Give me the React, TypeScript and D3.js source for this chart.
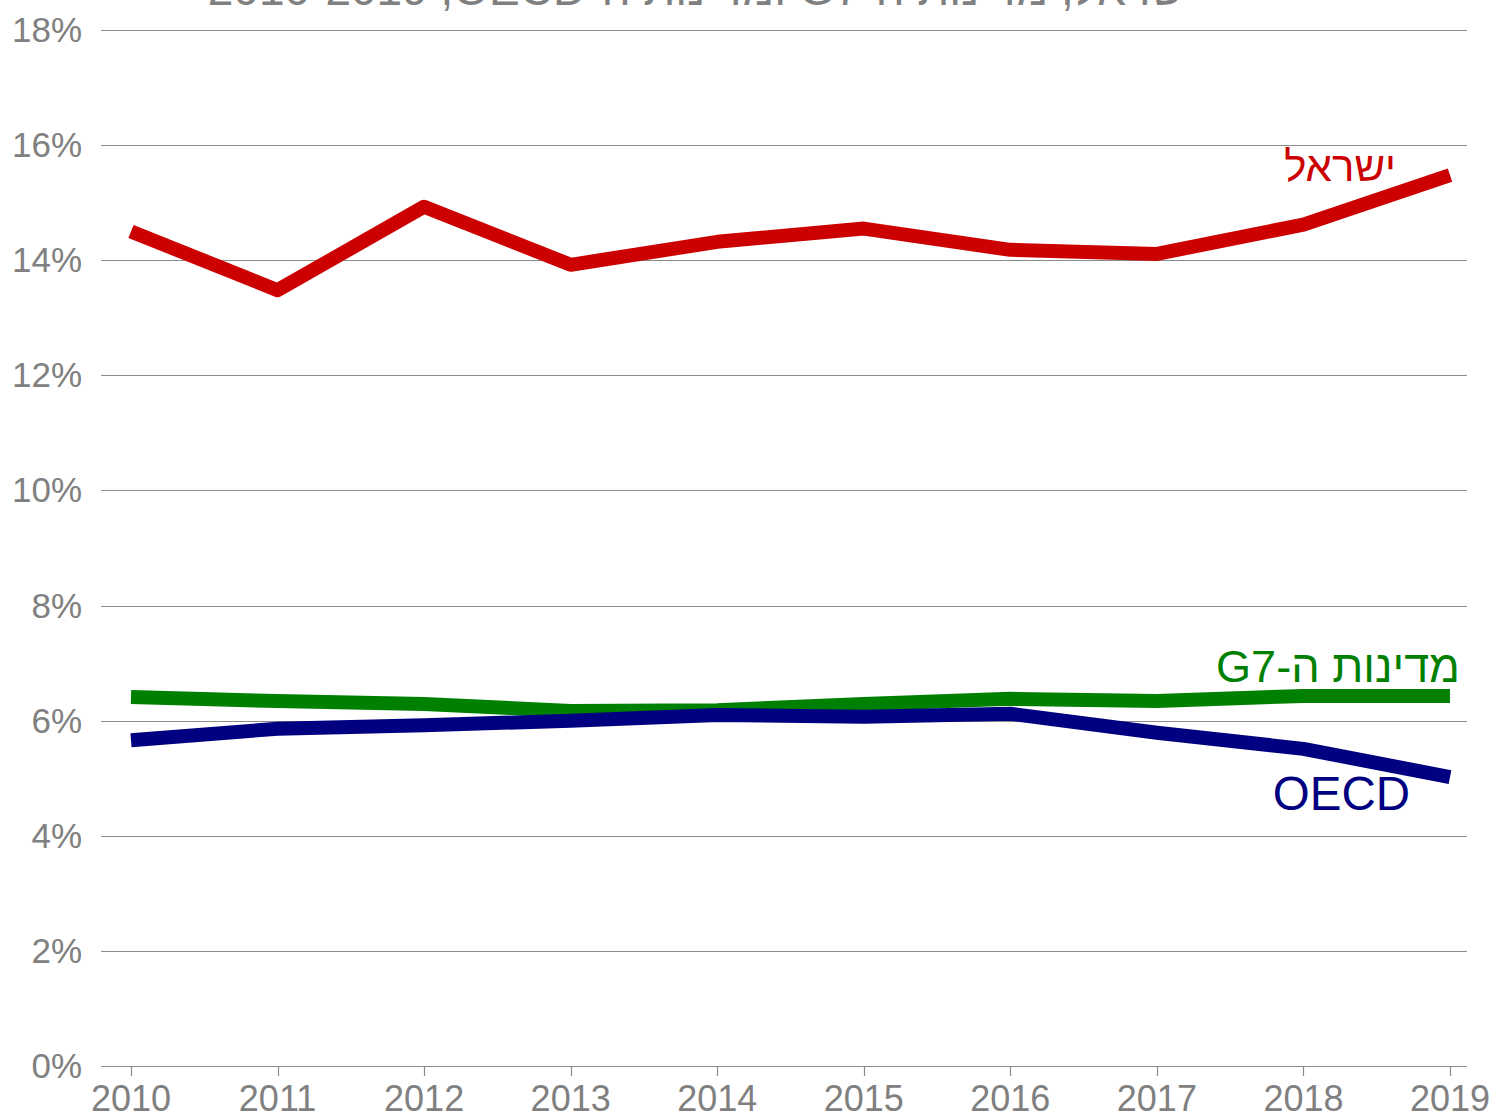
import React from "react";
import * as d3 from "d3";

const years = [2010, 2011, 2012, 2013, 2014, 2015, 2016, 2017, 2018, 2019];
const israel = [14.5, 13.48, 14.93, 13.92, 14.32, 14.55, 14.18, 14.11, 14.62, 15.48];
const g7 = [6.41, 6.34, 6.29, 6.17, 6.18, 6.29, 6.38, 6.34, 6.43, 6.43];
const oecd = [5.66, 5.86, 5.92, 6.0, 6.1, 6.07, 6.12, 5.79, 5.51, 5.02];
const yTicks = [0, 2, 4, 6, 8, 10, 12, 14, 16, 18];
const titleText = "ישראל, מדינות ה-G7 ומדינות ה-OECD,\u200F 2010-2019";
const seriesLabels = { israel: "ישראל", g7: "מדינות ה-G7", oecd: "OECD" };

const W = 1496;
const H = 1116;
const FONT = "'Liberation Sans', Arial, sans-serif";

export default function App() {
  const x = d3.scaleLinear().domain([2010, 2019]).range([131, 1450]);
  const y = d3.scaleLinear().domain([0, 18]).range([1066, 30]);
  const line = d3
    .line<number>()
    .x((_, i) => x(years[i]))
    .y((d) => y(d));

  const series = [
    { key: "israel", data: israel, color: "#CC0000" },
    { key: "g7", data: g7, color: "#008000" },
    { key: "oecd", data: oecd, color: "#000080" },
  ];

  return (
    <div style={{ position: "absolute", left: 0, top: 0 }}>
      <svg width={W} height={H} style={{ display: "block", background: "#fff" }}>
        <text
          x={702}
          y={5}
          textAnchor="middle"
          direction="rtl"
          fontFamily={FONT}
          fontSize={46}
          fill="#808080"
        >
          {titleText}
        </text>
        {yTicks.map((t) => (
          <g key={t}>
            <line
              x1={101}
              x2={1467}
              y1={Math.round(y(t)) + 0.5}
              y2={Math.round(y(t)) + 0.5}
              stroke="#8c8c8c"
              strokeWidth={1.2}
            />
            <text
              x={82}
              y={y(t) + 12}
              textAnchor="end"
              fontFamily={FONT}
              fontSize={35}
              fill="#808080"
            >
              {t}%
            </text>
          </g>
        ))}
        {years.map((yr) => (
          <g key={yr}>
            <line
              x1={Math.round(x(yr)) + 0.5}
              x2={Math.round(x(yr)) + 0.5}
              y1={y(0)}
              y2={y(0) + 10}
              stroke="#8c8c8c"
              strokeWidth={1.2}
            />
            <text
              x={x(yr)}
              y={1111}
              textAnchor="middle"
              fontFamily={FONT}
              fontSize={36}
              fill="#808080"
            >
              {yr}
            </text>
          </g>
        ))}
        {series.map((s) => (
          <path
            key={s.key}
            d={line(s.data) || ""}
            fill="none"
            stroke={s.color}
            strokeWidth={14}
            strokeLinecap="butt"
            strokeLinejoin="round"
          />
        ))}
        <text
          x={1396}
          y={181}
          direction="rtl"
          textAnchor="start"
          fontFamily={FONT}
          fontSize={42}
          fill="#CC0000"
        >
          {seriesLabels.israel}
        </text>
        <text
          x={1460}
          y={682}
          direction="rtl"
          textAnchor="start"
          fontFamily={FONT}
          fontSize={45}
          fill="#008000"
        >
          {seriesLabels.g7}
        </text>
        <text
          x={1410}
          y={810}
          textAnchor="end"
          fontFamily={FONT}
          fontSize={47.5}
          fill="#000080"
        >
          {seriesLabels.oecd}
        </text>
      </svg>
    </div>
  );
}
